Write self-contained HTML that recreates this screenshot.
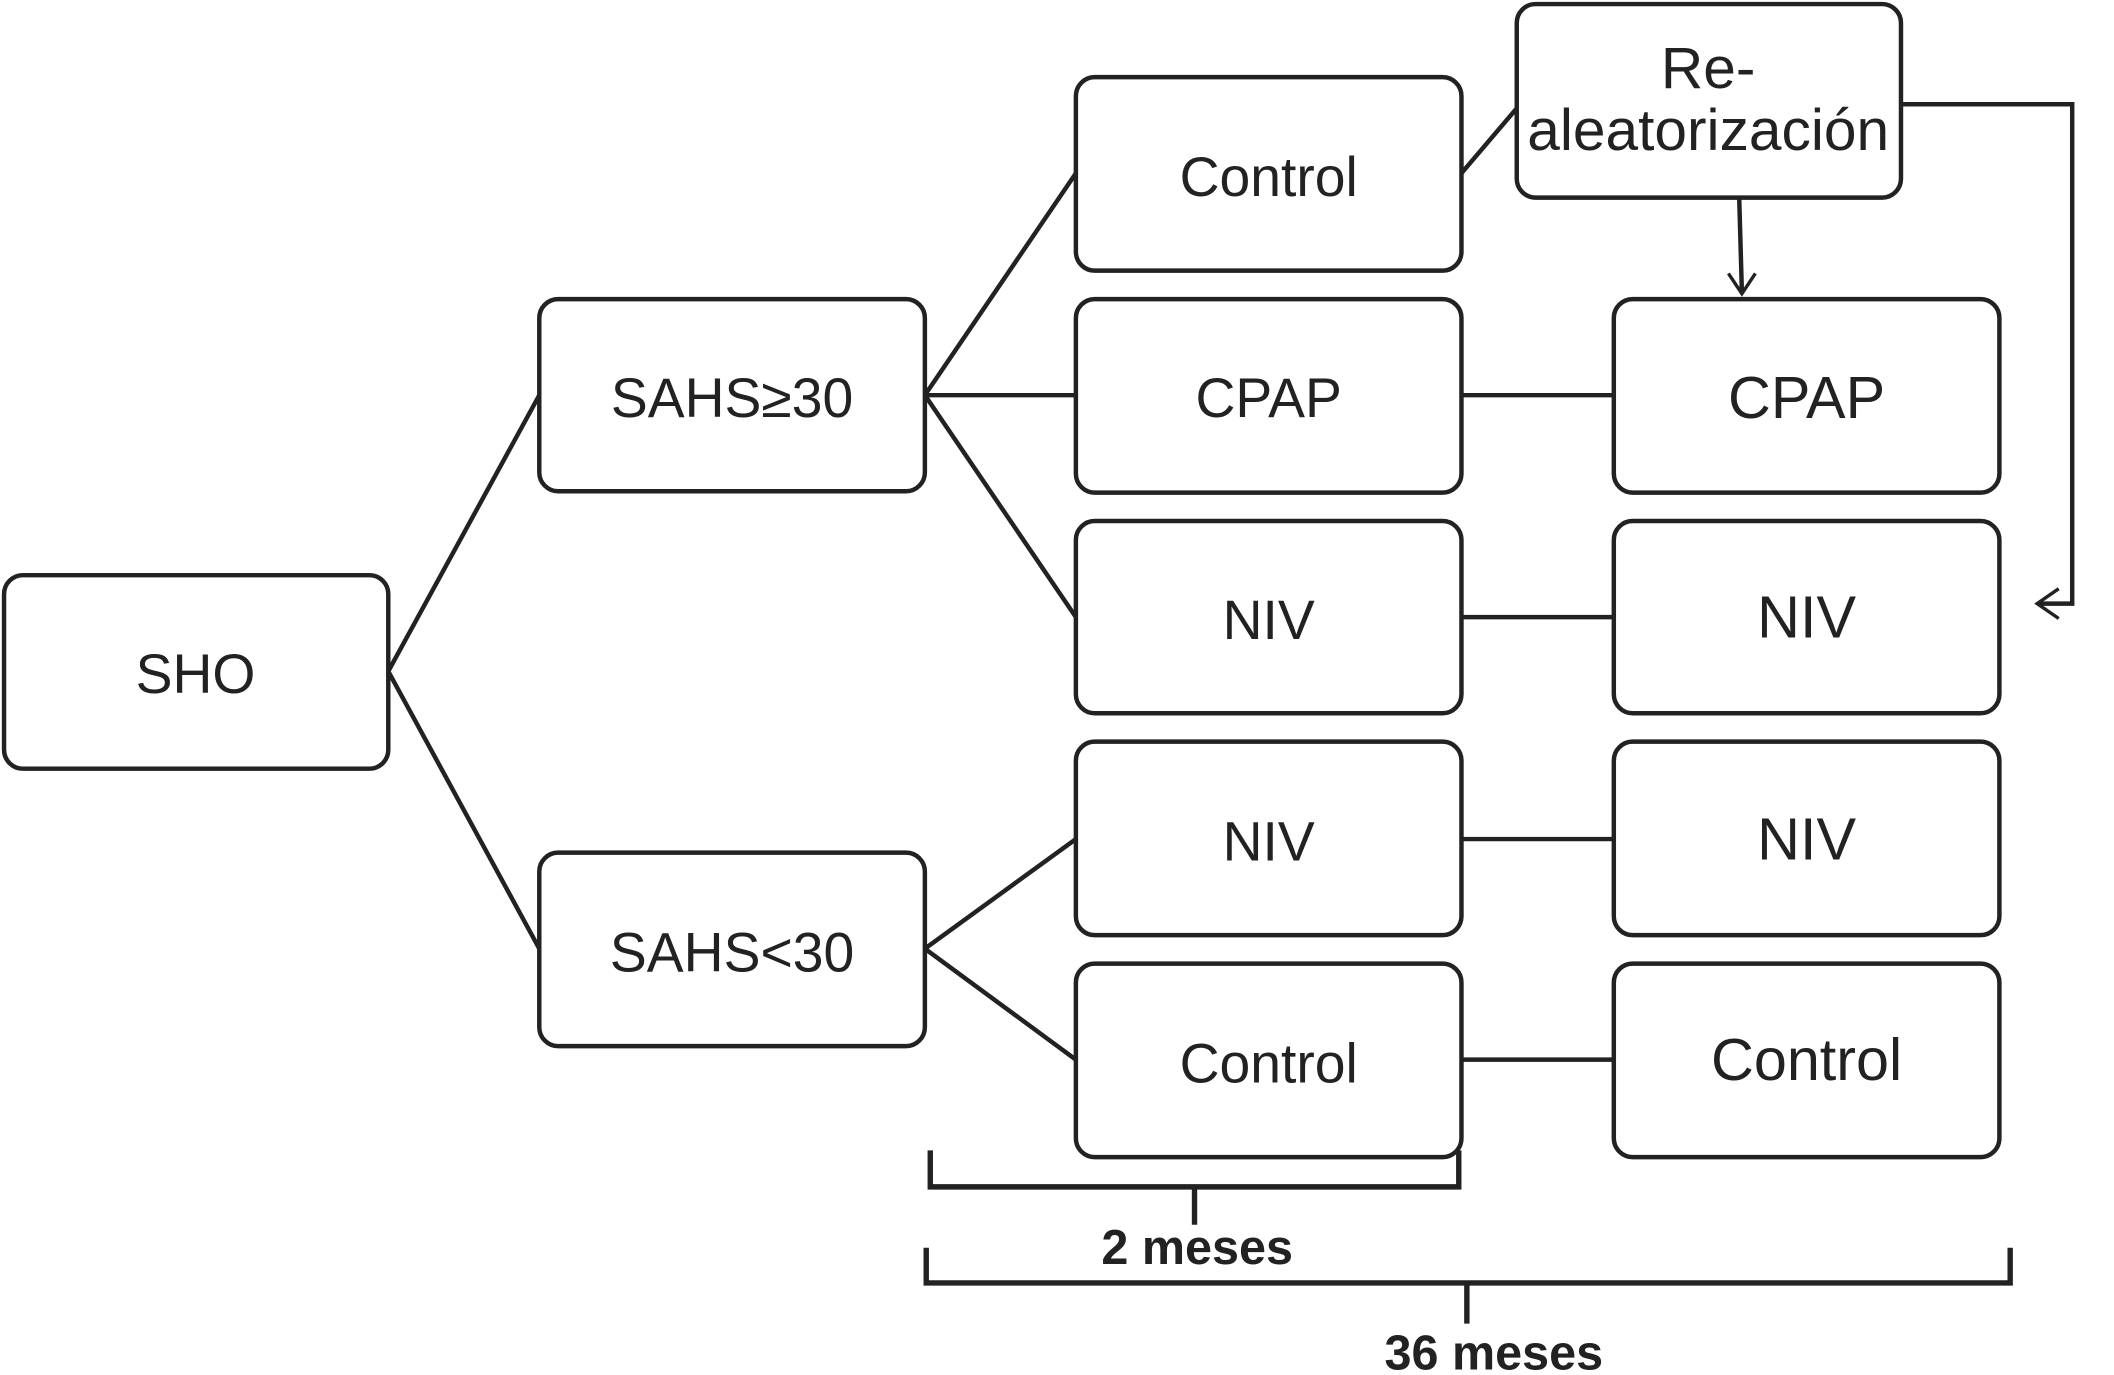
<!DOCTYPE html>
<html><head><meta charset="utf-8"><style>
html,body{margin:0;padding:0;background:#fff;}
svg{display:block;}
text{font-family:"Liberation Sans",Arial,sans-serif;fill:#222;}
</style></head><body>
<svg width="2114" height="1375" viewBox="0 0 1568 1016" preserveAspectRatio="none" xmlns="http://www.w3.org/2000/svg">
<g fill="none" stroke="#222" stroke-width="3.3">
<rect x="3" y="425" width="285" height="143" rx="14"/>
<rect x="400" y="221" width="286" height="142" rx="14"/>
<rect x="400" y="630" width="286" height="143" rx="14"/>
<rect x="798" y="57" width="286" height="143" rx="14"/>
<rect x="798" y="221" width="286" height="143" rx="14"/>
<rect x="798" y="385" width="286" height="142" rx="14"/>
<rect x="798" y="548" width="286" height="143" rx="14"/>
<rect x="798" y="712" width="286" height="143" rx="14"/>
<rect x="1125" y="3" width="285" height="143" rx="14"/>
<rect x="1197" y="221" width="286" height="143" rx="14"/>
<rect x="1197" y="385" width="286" height="142" rx="14"/>
<rect x="1197" y="548" width="286" height="143" rx="14"/>
<rect x="1197" y="712" width="286" height="143" rx="14"/>
<path d="M288 496 L400 292 M288 496 L400 701"/>
<path d="M686 292 L798 128 M686 292 L798 292 M686 292 L798 456"/>
<path d="M686 701 L798 620 M686 701 L798 783"/>
<path d="M1084 128 L1125 80"/>
<path d="M1084 292 H1197 M1084 456 H1197 M1084 620 H1197 M1084 783 H1197"/>
<path d="M1290 146 L1292 216"/>
<path d="M1282 202 L1292 217 L1302 202" stroke-width="2.5"/>
<path d="M1410 77 H1537 V446 H1512"/>
<path d="M1527 435 L1511 446 L1527 457" stroke-width="2.5"/>
<path d="M690 850 V877 H1082 V850 M886 877 V905" stroke-width="4"/>
<path d="M687 922 V948 H1491 V922 M1088 948 V978" stroke-width="4"/>
</g>
<g font-size="41" text-anchor="middle">
<text x="145" y="512">SHO</text>
<text x="543" y="308">SAHS≥30</text>
<text x="543" y="718">SAHS&lt;30</text>
<text x="941" y="145">Control</text>
<text x="941" y="308">CPAP</text>
<text x="941" y="472">NIV</text>
<text x="941" y="636">NIV</text>
<text x="941" y="800">Control</text>
<text x="1267" y="65" font-size="43.5">Re-</text>
<text x="1267" y="111" font-size="43.5">aleatorización</text>
<text x="1340" y="309" font-size="44">CPAP</text>
<text x="1340" y="471" font-size="44">NIV</text>
<text x="1340" y="635" font-size="44">NIV</text>
<text x="1340" y="798" font-size="44">Control</text>
<text x="888" y="934" font-size="36" font-weight="bold">2 meses</text>
<text x="1108" y="1012" font-size="36" font-weight="bold">36 meses</text>
</g>
</svg>
</body></html>
